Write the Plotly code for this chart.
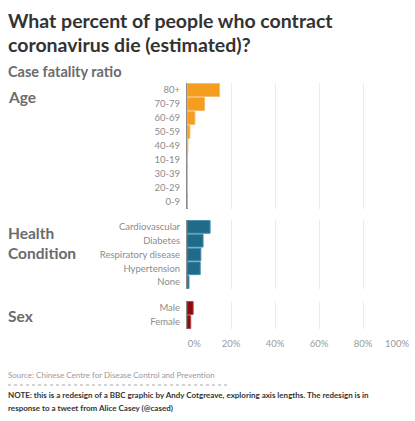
import plotly.graph_objects as go

W, H = 415, 421

age_groups = ["80+", "70-79", "60-69", "50-59", "40-49", "10-19", "30-39", "20-29", "0-9"]
age_values = [14.8, 8.0, 3.6, 1.3, 0.4, 0.2, 0.2, 0.2, 0.0]

conditions = ["Cardiovascular", "Diabetes", "Respiratory disease", "Hypertension", "None"]
condition_values = [10.5, 7.3, 6.3, 6.0, 0.9]

sexes = ["Male", "Female"]
sex_values = [2.8, 1.7]

tick_vals = [0, 20, 40, 60, 80, 100]
tick_text = ["0%", "20%", "40%", "60%", "80%", "100%"]

ORANGE = "#F59D1E"
TEAL = "#1F6B8A"
RED = "#8B0A0A"

def py(px):
    return 1 - px / H

FONT = "Lato"

fig = go.Figure()
fig.add_trace(go.Bar(y=age_groups, x=age_values, orientation="h", xaxis="x", yaxis="y",
                     marker=dict(color=ORANGE, line=dict(color="#F8BC6A", width=1))))
fig.add_trace(go.Bar(y=conditions, x=condition_values, orientation="h", xaxis="x2", yaxis="y2",
                     marker=dict(color=TEAL, line=dict(color="#4C8FAE", width=1))))
fig.add_trace(go.Bar(y=sexes, x=sex_values, orientation="h", xaxis="x3", yaxis="y3",
                     marker=dict(color=RED, line=dict(color="#B04848", width=1))))
# empty trace so the overlay axis carrying the last tick label is drawn
fig.add_trace(go.Scatter(x=[], y=[], xaxis="x4", yaxis="y3", hoverinfo="skip"))

xdom = [187 / W, 407 / W]
xcommon = dict(range=[0, 100], domain=xdom, showgrid=True, gridcolor="#EBEBEB", gridwidth=1,
               zeroline=True, zerolinecolor="#8A8A8A", zerolinewidth=1.5, automargin=False,
               tickvals=tick_vals, fixedrange=True, showline=False)
ycommon = dict(autorange="reversed", showgrid=False, zeroline=False, type="category", automargin=False,
               tickfont=dict(family=FONT, size=9.5, color="#8C8C8C"), fixedrange=True,
               ticks="outside", ticklen=4, tickcolor="rgba(0,0,0,0)", showline=False)
tickfont_x = dict(family=FONT, size=9.5, color="#9A9A9A")

main_text = ["\u00a0" * 6 + tick_text[0]] + tick_text[1:-1] + [""]

fig.update_layout(
    width=W, height=H,
    margin=dict(l=0, r=0, t=0, b=0, autoexpand=False),
    paper_bgcolor="white", plot_bgcolor="white",
    showlegend=False, bargap=0.08,
    font=dict(family=FONT),
    xaxis=dict(**xcommon, anchor="y", showticklabels=False),
    xaxis2=dict(**xcommon, anchor="y2", matches="x", showticklabels=False),
    xaxis3=dict(**xcommon, anchor="y3", matches="x", showticklabels=True,
                ticktext=main_text, tickfont=tickfont_x,
                ticks="outside", ticklen=6, tickcolor="rgba(0,0,0,0)"),
    xaxis4=dict(overlaying="x3", anchor="y3", range=[0, 100], automargin=False, fixedrange=True,
                showgrid=False, zeroline=False, showline=False,
                tickvals=tick_vals[-1:], ticktext=tick_text[-1:], tickfont=tickfont_x,
                ticklabelshift=-10, ticks="outside", ticklen=6, tickcolor="rgba(0,0,0,0)"),
    yaxis=dict(**ycommon, anchor="x", domain=[py(209), py(83)]),
    yaxis2=dict(**ycommon, anchor="x2", domain=[py(289), py(220)]),
    yaxis3=dict(**ycommon, anchor="x3", domain=[py(329), py(301)]),
)

ann = []
def text(x, y, s, size, color, bold=False):
    ann.append(dict(xref="paper", yref="paper", x=x / W, y=py(y), xanchor="left", yanchor="middle",
                    text=(f"<b>{s}</b>" if bold else s), showarrow=False,
                    font=dict(family=FONT, size=size, color=color), align="left"))

text(6, 20, "What percent of people who contract", 19.5, "#333333", True)
text(6, 44, "coronavirus die (estimated)?", 19.5, "#333333", True)
text(6, 71, "Case fatality ratio", 14.5, "#6B6B6B", True)
text(6, 97, "Age", 15.5, "#6B6B6B", True)
text(6, 233, "Health", 15.5, "#6B6B6B", True)
text(6, 253, "Condition", 15.5, "#6B6B6B", True)
text(6, 316, "Sex", 15.5, "#6B6B6B", True)
text(6, 375, "Source: Chinese Centre for Disease Control and Prevention", 8, "#9A9A9A")
text(6, 395, "NOTE: this is a redesign of a BBC graphic by Andy Cotgreave, exploring axis lengths. The redesign is in", 8, "#333333", True)
text(6, 408, "response to a tweet from Alice Casey (@cased)", 8, "#333333", True)
fig.update_layout(annotations=ann)

fig.add_shape(type="line", xref="paper", yref="paper", x0=8 / W, x1=228 / W, y0=py(385), y1=py(385),
              line=dict(color="#AAAAAA", width=1, dash="dot"))

fig.write_html("out.html", config={"displayModeBar": False},
               post_script="document.body.style.margin='0';")
